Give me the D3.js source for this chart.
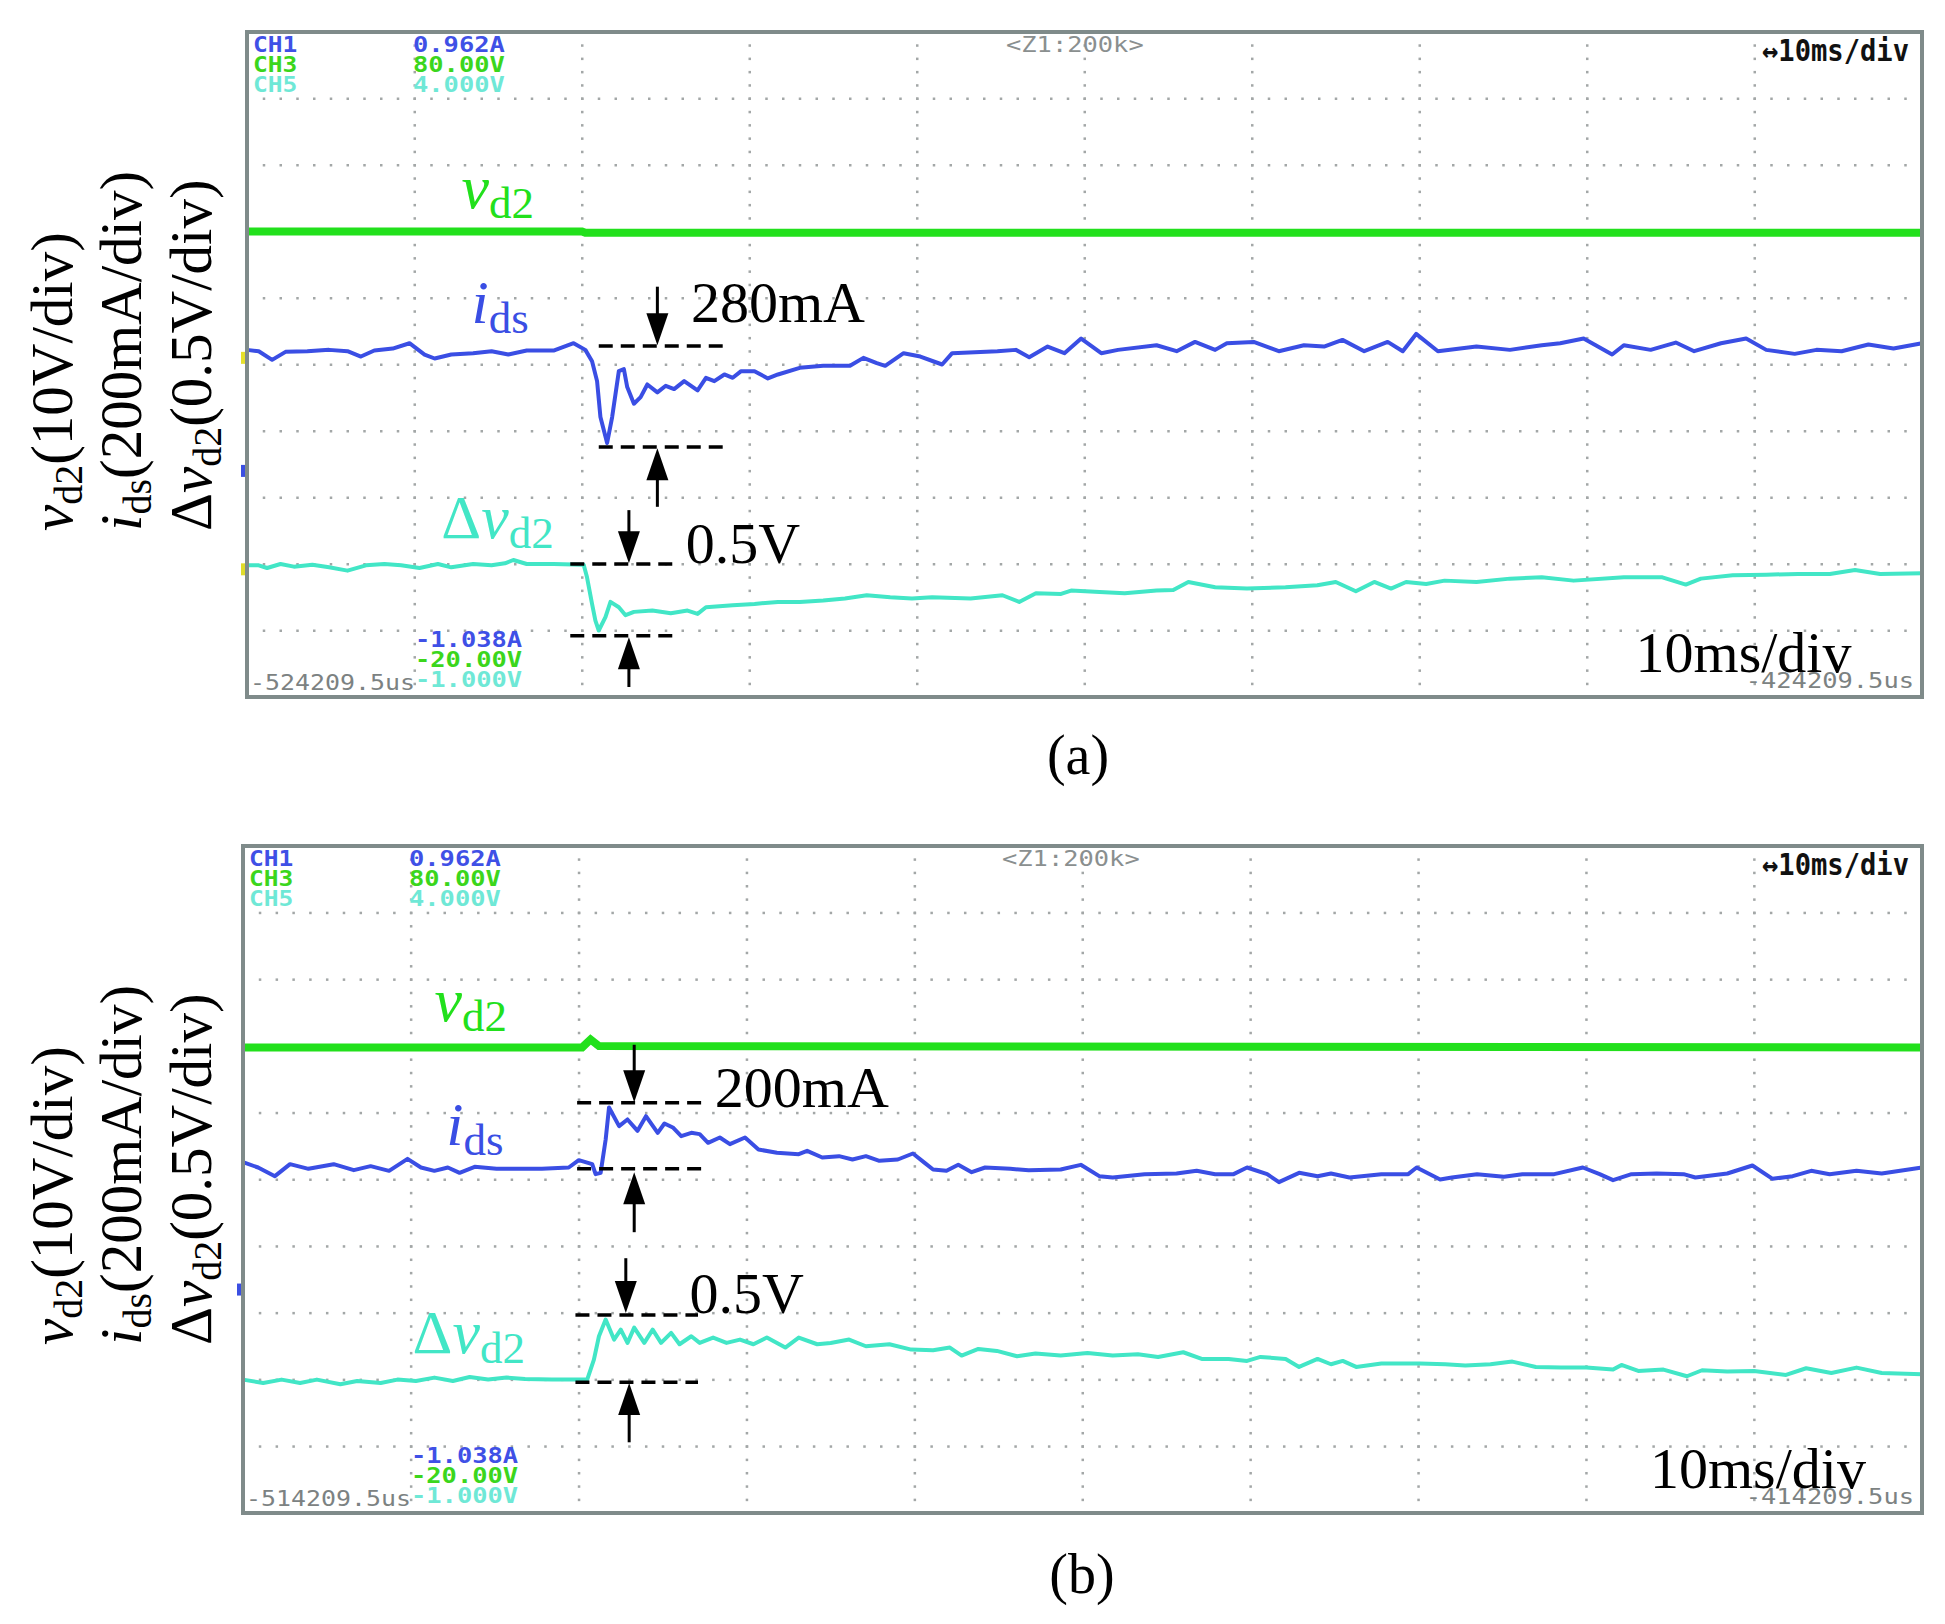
<!DOCTYPE html>
<html>
<head>
<meta charset="utf-8">
<script src="https://cdn.jsdelivr.net/npm/d3@7"></script>
<style>
  body { margin: 0; background: #fff; }
  svg { display: block; }
</style>
</head>
<body>
<div class="svg-container"></div>
<script>
// all traces are in scope divisions: [time div, vertical div]
const vd2A = [[0, 7.0], [2.0, 7.0], [2.02, 6.98], [10, 6.98]];
const idsA = [
  [0, 5.22], [0.07, 5.20], [0.15, 5.07], [0.23, 5.19], [0.36, 5.20], [0.49, 5.22], [0.60, 5.20], [0.68, 5.12],
  [0.76, 5.21], [0.87, 5.24], [0.97, 5.32], [1.06, 5.15], [1.12, 5.09], [1.22, 5.15], [1.35, 5.17], [1.46, 5.20],
  [1.56, 5.15], [1.67, 5.21], [1.83, 5.21], [1.95, 5.32], [2.02, 5.22], [2.06, 5.05], [2.09, 4.75], [2.11, 4.21],
  [2.15, 3.82], [2.18, 4.21], [2.22, 4.90], [2.25, 4.93], [2.27, 4.66], [2.31, 4.41], [2.35, 4.51], [2.39, 4.70],
  [2.45, 4.58], [2.50, 4.68], [2.55, 4.63], [2.61, 4.75], [2.69, 4.61], [2.74, 4.80], [2.79, 4.75], [2.85, 4.85],
  [2.90, 4.80], [2.95, 4.90], [3.03, 4.90], [3.11, 4.79], [3.17, 4.85], [3.30, 4.95], [3.44, 4.98], [3.60, 4.98],
  [3.68, 5.10], [3.76, 5.02], [3.81, 4.98], [3.92, 5.17], [4.02, 5.12], [4.15, 5.00], [4.21, 5.17], [4.48, 5.20],
  [4.59, 5.22], [4.67, 5.11], [4.78, 5.27], [4.88, 5.17], [4.98, 5.39], [5.10, 5.17], [5.20, 5.22], [5.43, 5.29],
  [5.55, 5.20], [5.66, 5.34], [5.78, 5.22], [5.85, 5.32], [6.01, 5.34], [6.16, 5.20], [6.31, 5.29], [6.43, 5.27],
  [6.54, 5.37], [6.67, 5.20], [6.81, 5.34], [6.90, 5.20], [6.98, 5.46], [7.11, 5.20], [7.34, 5.27], [7.54, 5.22],
  [7.73, 5.29], [7.84, 5.32], [7.98, 5.39], [8.15, 5.15], [8.22, 5.29], [8.38, 5.22], [8.53, 5.33], [8.64, 5.20],
  [8.80, 5.32], [8.95, 5.39], [9.07, 5.22], [9.24, 5.16], [9.37, 5.22], [9.52, 5.20], [9.68, 5.30], [9.83, 5.24],
  [10, 5.32]
];
const dvA = [
  [0, 1.98], [0.07, 1.98], [0.12, 1.94], [0.20, 2.00], [0.28, 1.96], [0.39, 1.99], [0.49, 1.95], [0.60, 1.90],
  [0.71, 1.98], [0.82, 2.00], [0.92, 1.98], [1.03, 1.94], [1.14, 2.00], [1.22, 1.95], [1.35, 2.00], [1.46, 1.98],
  [1.54, 2.01], [1.59, 2.06], [1.67, 2.00], [1.83, 2.00], [2.01, 1.99], [2.03, 1.80], [2.06, 1.40], [2.08, 1.15],
  [2.10, 1.00], [2.14, 1.20], [2.17, 1.43], [2.22, 1.35], [2.26, 1.23], [2.31, 1.28], [2.42, 1.30], [2.53, 1.26],
  [2.63, 1.30], [2.69, 1.25], [2.74, 1.35], [2.90, 1.38], [3.03, 1.40], [3.17, 1.43], [3.30, 1.43], [3.44, 1.45],
  [3.57, 1.48], [3.70, 1.53], [3.84, 1.50], [3.97, 1.48], [4.09, 1.50], [4.32, 1.48], [4.51, 1.53], [4.61, 1.43],
  [4.71, 1.56], [4.86, 1.55], [4.92, 1.60], [5.09, 1.58], [5.24, 1.56], [5.43, 1.60], [5.53, 1.61], [5.62, 1.73],
  [5.78, 1.65], [5.97, 1.63], [6.20, 1.65], [6.39, 1.68], [6.50, 1.73], [6.62, 1.59], [6.73, 1.73], [6.83, 1.63],
  [6.92, 1.73], [7.04, 1.70], [7.15, 1.75], [7.34, 1.73], [7.54, 1.78], [7.73, 1.80], [7.92, 1.75], [8.22, 1.80],
  [8.45, 1.80], [8.59, 1.69], [8.68, 1.78], [8.87, 1.83], [9.07, 1.84], [9.26, 1.85], [9.45, 1.85], [9.60, 1.91],
  [9.75, 1.85], [10, 1.86]
];

const vd2B = [[0, 6.98], [2.02, 6.98], [2.07, 7.1], [2.12, 7.0], [10, 6.98]];
const idsB = [
  [0, 5.26], [0.09, 5.18], [0.19, 5.05], [0.28, 5.23], [0.39, 5.16], [0.54, 5.23], [0.66, 5.14], [0.76, 5.20],
  [0.87, 5.13], [0.98, 5.31], [1.06, 5.18], [1.14, 5.13], [1.22, 5.18], [1.29, 5.10], [1.38, 5.19], [1.51, 5.16],
  [1.62, 5.16], [1.78, 5.16], [1.94, 5.18], [2.00, 5.29], [2.08, 5.23], [2.10, 5.08], [2.13, 5.10], [2.16, 5.60],
  [2.18, 6.08], [2.24, 5.80], [2.29, 5.90], [2.35, 5.73], [2.40, 5.95], [2.47, 5.70], [2.51, 5.84], [2.56, 5.78],
  [2.61, 5.65], [2.67, 5.70], [2.72, 5.68], [2.77, 5.55], [2.84, 5.63], [2.90, 5.53], [2.99, 5.63], [3.07, 5.45],
  [3.18, 5.40], [3.31, 5.38], [3.36, 5.43], [3.45, 5.33], [3.55, 5.35], [3.63, 5.30], [3.71, 5.35], [3.79, 5.28],
  [3.90, 5.30], [3.99, 5.39], [4.06, 5.25], [4.11, 5.15], [4.19, 5.13], [4.26, 5.22], [4.34, 5.11], [4.42, 5.18],
  [4.57, 5.16], [4.68, 5.14], [4.87, 5.15], [4.99, 5.22], [5.10, 5.05], [5.18, 5.03], [5.37, 5.08], [5.56, 5.09],
  [5.68, 5.13], [5.79, 5.08], [5.90, 5.08], [5.98, 5.18], [6.10, 5.08], [6.17, 4.96], [6.29, 5.10], [6.40, 5.05],
  [6.48, 5.09], [6.59, 5.03], [6.78, 5.08], [6.94, 5.08], [6.99, 5.18], [7.13, 5.00], [7.20, 5.03], [7.35, 5.08],
  [7.51, 5.04], [7.62, 5.08], [7.81, 5.08], [7.98, 5.18], [8.08, 5.08], [8.16, 4.99], [8.27, 5.08], [8.42, 5.09],
  [8.58, 5.08], [8.65, 5.03], [8.84, 5.09], [8.99, 5.21], [9.11, 5.01], [9.23, 5.05], [9.34, 5.13], [9.45, 5.08],
  [9.61, 5.13], [9.76, 5.09], [10, 5.18]
];
const dvB = [
  [0, 2.00], [0.12, 1.95], [0.23, 2.00], [0.34, 1.95], [0.44, 2.00], [0.58, 1.93], [0.68, 1.98], [0.82, 1.95],
  [0.92, 2.00], [1.03, 1.98], [1.14, 2.03], [1.25, 1.98], [1.35, 2.04], [1.46, 2.00], [1.57, 2.03], [1.68, 2.01],
  [1.84, 2.00], [2.05, 2.00], [2.09, 2.30], [2.12, 2.65], [2.16, 2.90], [2.21, 2.60], [2.25, 2.75], [2.29, 2.55],
  [2.33, 2.78], [2.39, 2.55], [2.44, 2.75], [2.49, 2.55], [2.55, 2.70], [2.60, 2.53], [2.67, 2.65], [2.72, 2.55],
  [2.80, 2.63], [2.88, 2.55], [2.96, 2.60], [3.04, 2.53], [3.12, 2.63], [3.23, 2.48], [3.31, 2.63], [3.42, 2.53],
  [3.50, 2.55], [3.61, 2.60], [3.71, 2.50], [3.85, 2.53], [3.98, 2.45], [4.11, 2.44], [4.21, 2.48], [4.28, 2.36],
  [4.38, 2.46], [4.49, 2.43], [4.61, 2.35], [4.72, 2.39], [4.87, 2.36], [5.03, 2.40], [5.18, 2.36], [5.33, 2.38],
  [5.45, 2.34], [5.60, 2.41], [5.71, 2.31], [5.87, 2.31], [5.98, 2.28], [6.06, 2.34], [6.21, 2.31], [6.29, 2.19],
  [6.40, 2.31], [6.48, 2.23], [6.55, 2.28], [6.63, 2.19], [6.78, 2.24], [7.01, 2.24], [7.16, 2.23], [7.28, 2.21],
  [7.43, 2.23], [7.56, 2.27], [7.70, 2.19], [7.85, 2.18], [8.00, 2.18], [8.16, 2.15], [8.21, 2.22], [8.31, 2.13],
  [8.46, 2.15], [8.60, 2.05], [8.69, 2.14], [8.84, 2.12], [9.00, 2.13], [9.19, 2.07], [9.31, 2.17], [9.46, 2.10],
  [9.61, 2.18], [9.76, 2.10], [10, 2.08]
];

// measurement marks, in divisions
const dashA = [[2.10, 2.84, 5.28], [2.10, 2.84, 3.76], [1.93, 2.54, 2.0], [1.93, 2.54, 0.92]];
const arrowA = [[2.45, 6.17, 5.29], [2.45, 2.86, 3.74], [2.28, 2.81, 2.01], [2.28, 0.15, 0.90]];
const dashB = [[1.99, 2.74, 6.15], [1.99, 2.74, 5.16], [1.98, 2.71, 2.97], [1.98, 2.71, 1.96]];
const arrowB = [[2.33, 7.02, 6.16], [2.33, 4.21, 5.11], [2.28, 3.82, 3.0], [2.30, 1.06, 1.95]];
const noteA = [['280mA', 2.65, 5.64], ['0.5V', 2.62, 2.02], ['10ms/div', 8.29, 0.38]];
const noteB = [['200mA', 2.81, 6.09], ['0.5V', 2.66, 3.0], ['10ms/div', 8.38, 0.38]];
// trace name positions [x div, baseline div]
const nameA = { vd2: [1.28, 7.35], ids: [1.34, 5.62], dv: [1.16, 2.39] };
const nameB = { vd2: [1.14, 7.38], ids: [1.21, 5.52], dv: [1.01, 2.40] };

const chNames = ['CH1', 'CH3', 'CH5'];
const chTop = ['0.962A', '80.00V', '4.000V'];
const chBottom = ['-1.038A', '-20.00V', '-1.000V'];
const timeA = ['-524209.5us', '-424209.5us'];
const timeB = ['-514209.5us', '-414209.5us'];
const zoomLabel = '<Z1:200k>';
const divLabel = '\u219410ms/div';
const markerA = [[5.1, '#e6e02a'], [3.4, '#3b4fe2'], [1.92, '#e0dc2a']];
const markerB = [[3.35, '#3b4fe2']];

const col = { ids: '#3a4ee4', vd2: '#22e01c', dv: '#42e6c6', ch1: '#3f50e6', ch3: '#3bd61c', ch5: '#6fe8d6' };
const serif = 'Liberation Serif, Times New Roman, serif';
const mono = 'DejaVu Sans Mono, monospace';

const svg = d3.select('.svg-container').append('svg')
  .attr('width', 1945).attr('height', 1624);

function drawPanel(p) {
  const x = d3.scaleLinear().domain([0, 10]).range([p.left, p.right]);
  const y = d3.scaleLinear().domain([0, 10]).range([p.bottom, p.top]);
  const g = svg.append('g').attr('class', 'panel');

  g.append('rect').attr('x', p.left).attr('y', p.top)
    .attr('width', p.right - p.left).attr('height', p.bottom - p.top)
    .attr('fill', '#fff');

  // dotted graticule
  const dots = [];
  d3.range(1, 10).forEach(k => {
    d3.range(1, 50).forEach(j => dots.push([k, j / 5]));
    d3.range(1, 100).forEach(j => dots.push([j / 10, k]));
  });
  g.append('g').selectAll('rect').data(dots).enter().append('rect')
    .attr('x', d => x(d[0]) - 1).attr('y', d => y(d[1]) - 1)
    .attr('width', 2.5).attr('height', 2.5).attr('fill', '#a3a7a7');

  // header / footer readouts
  const t = g.append('g').style('font-family', mono).style('font-size', '21px').style('font-weight', 'bold');
  const chCol = [col.ch1, col.ch3, col.ch5];
  chNames.forEach((s, i) => {
    t.append('text').attr('x', p.left + 6).attr('y', p.top + 20 + i * 20).attr('fill', chCol[i])
      .attr('textLength', s.length * 14.8).attr('lengthAdjust', 'spacingAndGlyphs').text(s);
    t.append('text').attr('x', p.left + 166).attr('y', p.top + 20 + i * 20).attr('fill', chCol[i])
      .attr('textLength', chTop[i].length * 15.3).attr('lengthAdjust', 'spacingAndGlyphs').text(chTop[i]);
    t.append('text').attr('x', p.left + 168).attr('y', p.bottom - 50 + i * 20).attr('fill', chCol[i])
      .attr('textLength', chBottom[i].length * 15.3).attr('lengthAdjust', 'spacingAndGlyphs').text(chBottom[i]);
  });
  t.append('text').attr('x', p.left + 759).attr('y', p.top + 20).attr('fill', '#8a8f8f')
    .style('font-weight', 'normal')
    .attr('textLength', zoomLabel.length * 15.3).attr('lengthAdjust', 'spacingAndGlyphs').text(zoomLabel);
  t.append('text').attr('x', p.left + 3).attr('y', p.bottom - 7).attr('fill', '#7c8282')
    .style('font-weight', 'normal')
    .attr('textLength', p.time[0].length * 15).attr('lengthAdjust', 'spacingAndGlyphs').text(p.time[0]);
  t.append('text').attr('x', p.right - 8).attr('y', p.bottom - 9).attr('fill', '#7c8282')
    .style('font-weight', 'normal').attr('text-anchor', 'end')
    .attr('textLength', p.time[1].length * 15.3).attr('lengthAdjust', 'spacingAndGlyphs').text(p.time[1]);
  t.append('text').attr('x', p.right - 160).attr('y', p.top + 29).attr('fill', '#111')
    .style('font-size', '30px')
    .attr('textLength', 147).attr('lengthAdjust', 'spacingAndGlyphs').text(divLabel);

  // channel level markers on the left edge
  g.append('g').selectAll('rect').data(p.markers).enter().append('rect')
    .attr('x', p.left - 6).attr('y', d => y(d[0]) - 6).attr('width', 6).attr('height', 12)
    .attr('fill', d => d[1]);

  // traces
  const line = d3.line().x(d => x(d[0])).y(d => y(d[1]));
  g.append('path').datum(p.vd2).attr('d', line).attr('fill', 'none')
    .attr('stroke', col.vd2).attr('stroke-width', 8);
  g.append('path').datum(p.ids).attr('d', line).attr('fill', 'none')
    .attr('stroke', col.ids).attr('stroke-width', 4).attr('stroke-linejoin', 'round');
  g.append('path').datum(p.dv).attr('d', line).attr('fill', 'none')
    .attr('stroke', col.dv).attr('stroke-width', 4).attr('stroke-linejoin', 'round');

  // frame
  g.append('rect').attr('x', p.left).attr('y', p.top)
    .attr('width', p.right - p.left).attr('height', p.bottom - p.top)
    .attr('fill', 'none').attr('stroke', '#7f8b8a').attr('stroke-width', 4);

  // measurement dashes and arrows
  g.append('g').selectAll('line').data(p.dash).enter().append('line')
    .attr('x1', d => x(d[0])).attr('x2', d => x(d[1]))
    .attr('y1', d => y(d[2])).attr('y2', d => y(d[2]))
    .attr('stroke', '#000').attr('stroke-width', 3.5).attr('stroke-dasharray', '14,8');
  const ar = g.append('g').selectAll('g').data(p.arrows).enter().append('g');
  ar.append('line')
    .attr('x1', d => x(d[0])).attr('x2', d => x(d[0]))
    .attr('y1', d => y(d[1]))
    .attr('y2', d => y(d[2]) + (y(d[1]) > y(d[2]) ? 20 : -20))
    .attr('stroke', '#000').attr('stroke-width', 3);
  ar.append('path').attr('fill', '#000').attr('d', d => {
    const tx = x(d[0]), ty = y(d[2]);
    const s = y(d[1]) > ty ? 1 : -1;
    return `M${tx},${ty}L${tx - 11},${ty + s * 32}L${tx + 11},${ty + s * 32}Z`;
  });

  g.append('g').selectAll('text').data(p.notes).enter().append('text')
    .attr('x', d => x(d[1])).attr('y', d => y(d[2]))
    .style('font-family', serif).style('font-size', '58px').attr('fill', '#000')
    .text(d => d[0]);

  // trace names
  const nm = (pos, color, parts) => {
    const tx = g.append('text').attr('x', x(pos[0])).attr('y', y(pos[1]))
      .style('font-family', serif).attr('fill', color);
    parts.forEach(([s, style]) => {
      const ts = tx.append('tspan').text(s);
      if (style === 'i') ts.style('font-style', 'italic').style('font-size', '62px');
      else if (style === 'sub') ts.style('font-size', '45px').attr('dy', 10);
      else ts.style('font-size', '62px');
    });
  };
  nm(p.names.vd2, col.vd2, [['v', 'i'], ['d2', 'sub']]);
  nm(p.names.ids, col.ids, [['i', 'i'], ['ds', 'sub']]);
  nm(p.names.dv, col.dv, [['\u0394', 'n'], ['v', 'i'], ['d2', 'sub']]);

  // rotated axis captions, each starting at the same bottom edge
  const cap = [
    [72, [['v', 'i'], ['d2', 'sub'], ['(10V/div)', 'r']]],
    [141, [['i', 'i'], ['ds', 'sub'], ['(200mA/div)', 'r']]],
    [211, [['\u0394', 'n'], ['v', 'i'], ['d2', 'sub'], ['(0.5V/div)', 'r']]]
  ];
  const yBase = p.top + 499;
  cap.forEach(([bx, parts]) => {
    const tx = svg.append('text')
      .attr('transform', `translate(${bx},${yBase}) rotate(-90)`)
      .attr('text-anchor', 'start')
      .style('font-family', serif).style('font-size', '59px').attr('fill', '#000');
    parts.forEach(([s, style]) => {
      const ts = tx.append('tspan').text(s);
      if (style === 'i') ts.style('font-style', 'italic');
      if (style === 'sub') ts.style('font-size', '40px').attr('dy', 10);
      if (style === 'r') ts.attr('dy', -10);
    });
  });

  svg.append('text').attr('x', p.capX).attr('y', p.capY).attr('text-anchor', 'middle')
    .style('font-family', serif).style('font-size', '56px').attr('fill', '#000').text(p.caption);
}

drawPanel({ left: 247, right: 1922, top: 32, bottom: 697, vd2: vd2A, ids: idsA, dv: dvA,
  dash: dashA, arrows: arrowA, notes: noteA, names: nameA, time: timeA, markers: markerA,
  caption: '(a)', capX: 1078, capY: 774 });
drawPanel({ left: 243, right: 1922, top: 846, bottom: 1513, vd2: vd2B, ids: idsB, dv: dvB,
  dash: dashB, arrows: arrowB, notes: noteB, names: nameB, time: timeB, markers: markerB,
  caption: '(b)', capX: 1082, capY: 1593 });
</script>
</body>
</html>
